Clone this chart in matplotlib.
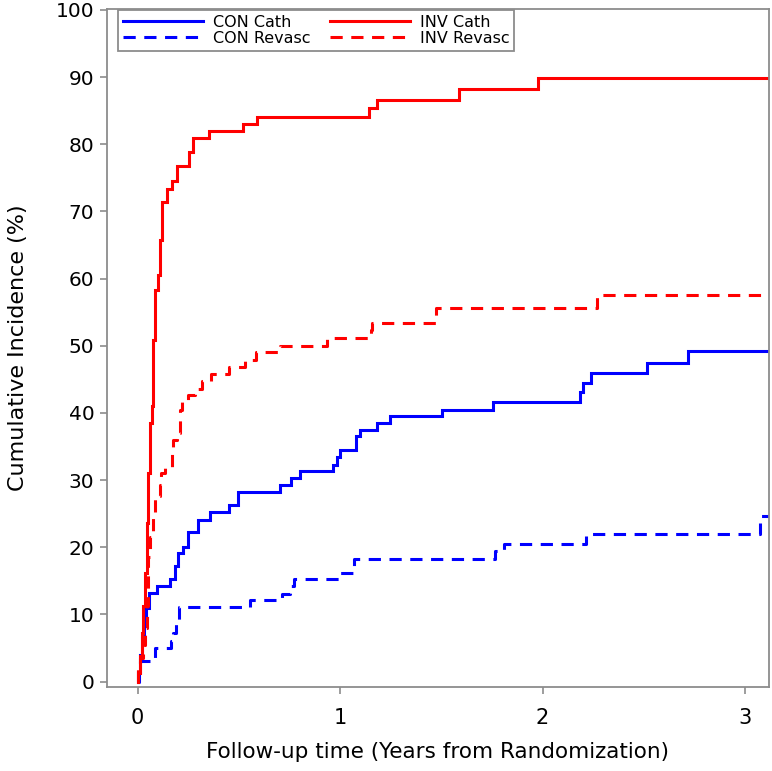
import numpy as np
import matplotlib
matplotlib.use("Agg")
import matplotlib.pyplot as plt

# follow-up end (years) and step data
follow_end = 3.12

con_cath_t = [0, 0.004, 0.012, 0.02, 0.03, 0.04, 0.058, 0.095, 0.160, 0.185, 0.200,
              0.225, 0.250, 0.300, 0.358, 0.450, 0.498, 0.704, 0.758, 0.802, 0.965,
              0.983, 1.000, 1.081, 1.099, 1.183, 1.247, 1.504, 1.756, 2.185, 2.200,
              2.240, 2.514, 2.718]
con_cath_y = [0, 1.5, 4.0, 6.5, 9.0, 11.0, 13.2, 14.2, 15.2, 17.2, 19.2,
              20.1, 22.2, 24.1, 25.3, 26.3, 28.3, 29.3, 30.3, 31.3, 32.3,
              33.4, 34.5, 36.5, 37.5, 38.5, 39.5, 40.5, 41.7, 43.1, 44.5,
              45.9, 47.4, 49.2]

con_rev_t = [0, 0.005, 0.012, 0.086, 0.165, 0.175, 0.190, 0.205, 0.556, 0.712,
             0.752, 0.770, 1.000, 1.070, 1.765, 1.810, 2.215, 3.074]
con_rev_y = [0, 1.5, 3.0, 5.0, 6.1, 7.2, 9.2, 11.1, 12.1, 13.1,
             14.2, 15.2, 16.2, 18.2, 19.4, 20.5, 21.9, 24.6]

inv_cath_t = [0, 0.004, 0.012, 0.021, 0.029, 0.037, 0.045, 0.053, 0.062, 0.070,
              0.078, 0.086, 0.100, 0.111, 0.121, 0.147, 0.172, 0.194, 0.256, 0.276,
              0.352, 0.522, 0.592, 1.145, 1.181, 1.588, 1.978]
inv_cath_y = [0, 1.3, 3.8, 7.3, 11.2, 16.2, 23.6, 31.1, 38.5, 41.0,
              50.9, 58.3, 60.6, 65.8, 71.4, 73.4, 74.6, 76.7, 78.8, 80.9,
              82.0, 83.0, 84.1, 85.4, 86.6, 88.2, 89.9]

inv_rev_t = [0, 0.004, 0.012, 0.025, 0.035, 0.045, 0.053, 0.062, 0.078, 0.086,
             0.111, 0.116, 0.136, 0.169, 0.177, 0.194, 0.210, 0.220, 0.249, 0.284,
             0.318, 0.363, 0.452, 0.531, 0.587, 0.704, 0.933, 1.152, 1.158, 1.474,
             2.271]
inv_rev_y = [0, 2.0, 3.5, 5.5, 8.0, 11.2, 18.6, 21.5, 24.6, 27.6,
             29.3, 31.1, 32.0, 34.1, 36.0, 37.0, 40.5, 41.7, 42.6, 43.6,
             44.7, 45.8, 46.8, 47.9, 49.0, 50.0, 51.1, 52.4, 53.4, 55.6,
             57.5]

labels = ["CON Cath", "CON Revasc", "INV Cath", "INV Revasc"]
x_ticks = [0, 1, 2, 3]
y_ticks = list(range(0, 101, 10))

fig = plt.figure(figsize=(7.72, 7.71), dpi=100)
ax = fig.add_axes([0.1386, 0.109, 0.8575, 0.879])

dash = (4.0, 2.8)
series = [
    (con_cath_t, con_cath_y, "#0000ff", "-"),
    (con_rev_t, con_rev_y, "#0000ff", "--"),
    (inv_cath_t, inv_cath_y, "#ff0000", "-"),
    (inv_rev_t, inv_rev_y, "#ff0000", "--"),
]
for (t, y, col, ls), lab in zip(series, labels):
    tt = list(t) + [follow_end]
    yy = list(y) + [y[-1]]
    line, = ax.step(tt, yy, where="post", color=col, lw=2.2, label=lab,
                    solid_joinstyle="miter", dash_capstyle="butt")
    if ls == "--":
        line.set_dashes(dash)

ax.set_xlim(-0.151, 3.118)
ax.set_ylim(-0.8, 100.1)
ax.set_xticks(x_ticks)
ax.set_yticks(y_ticks)
for s in ax.spines.values():
    s.set_color("#8c8c8c")
    s.set_linewidth(1.3)
ax.tick_params(direction="out", length=5, width=1.2, color="#8c8c8c")
ax.tick_params(axis="y", labelsize=14.5, pad=4)
ax.tick_params(axis="x", labelsize=15, pad=10)

ax.set_xlabel("Follow-up time (Years from Randomization)", fontsize=15.5, labelpad=10)
ax.set_ylabel("Cumulative Incidence (%)", fontsize=16, labelpad=20)

leg = ax.legend(loc="upper left", bbox_to_anchor=(0.0166, 0.999), ncol=2,
                fontsize=11.5, handlelength=5.0, handletextpad=0.65,
                columnspacing=1.2, labelspacing=0.08, borderpad=0.3,
                borderaxespad=0, fancybox=False, framealpha=1)
leg.get_frame().set_edgecolor("#8c8c8c")
leg.get_frame().set_linewidth(1.3)

fig.savefig("out.png", dpi=100)
